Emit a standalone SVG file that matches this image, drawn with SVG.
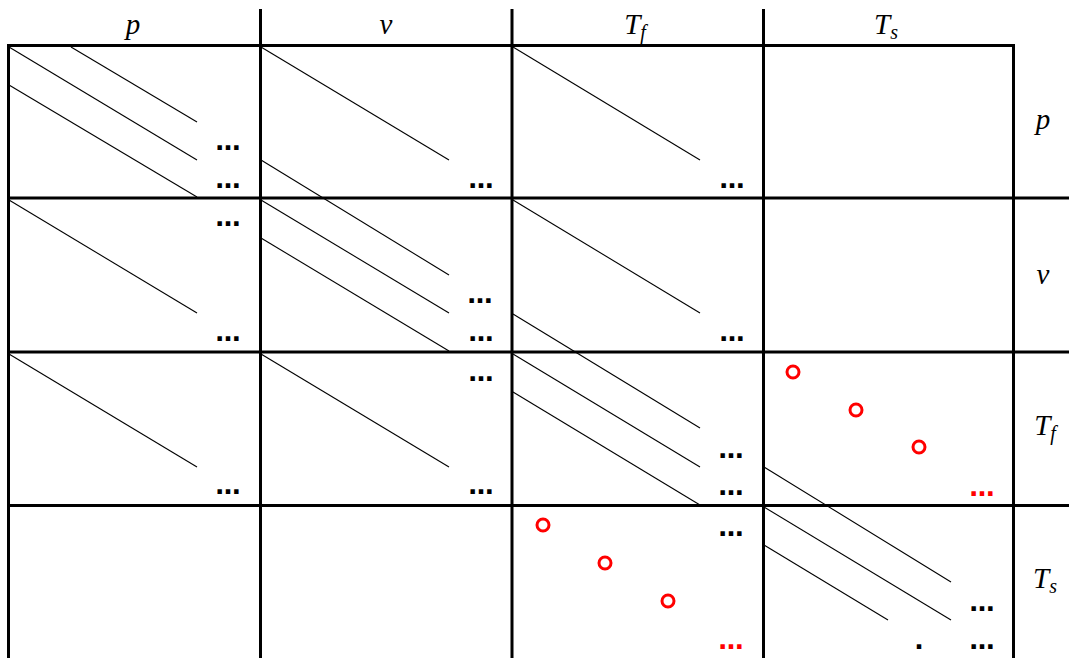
<svg xmlns="http://www.w3.org/2000/svg" width="1069" height="658" viewBox="0 0 1069 658">
<style>
.grid{stroke:#000;stroke-width:3;fill:none}
.d{stroke:#000;stroke-width:1.1;fill:none}
.lbl{font-family:"Liberation Serif","DejaVu Serif",serif;font-style:italic;font-size:29px;fill:#000;text-anchor:middle}
.sub{font-size:20px}
.dots{font-family:"DejaVu Sans","Liberation Sans",sans-serif;font-weight:bold;font-size:25px;fill:#000;text-anchor:middle}
.red{fill:#f00}
.ring{fill:none;stroke:#f00;stroke-width:3}
</style>
<rect width="1069" height="658" fill="#fff"/>
<g id="grid">
<line class="grid" x1="8.5" y1="45" x2="8.5" y2="658"/>
<line class="grid" x1="260.5" y1="9" x2="260.5" y2="658"/>
<line class="grid" x1="512" y1="9" x2="512" y2="658"/>
<line class="grid" x1="763.5" y1="9" x2="763.5" y2="658"/>
<line class="grid" x1="1013.5" y1="45" x2="1013.5" y2="658"/>
<line class="grid" x1="7" y1="45.5" x2="1015" y2="45.5"/>
<line class="grid" x1="7" y1="198" x2="1069" y2="198"/>
<line class="grid" x1="7" y1="352" x2="1069" y2="352"/>
<line class="grid" x1="7" y1="505.5" x2="1069" y2="505.5"/>
</g>
<g id="labels">
<text class="lbl" x="133" y="34">p</text>
<text class="lbl" x="386" y="34">v</text>
<text class="lbl" x="635" y="34">T<tspan class="sub" dy="5">f</tspan></text>
<text class="lbl" x="886" y="34">T<tspan class="sub" dy="5">s</tspan></text>
<text class="lbl" x="1043" y="129">p</text>
<text class="lbl" x="1043" y="284">v</text>
<text class="lbl" x="1045" y="435">T<tspan class="sub" dy="5">f</tspan></text>
<text class="lbl" x="1045" y="588">T<tspan class="sub" dy="5">s</tspan></text>
</g>
<g id="connectors">
<line class="d" x1="9" y1="47" x2="197" y2="160"/>
<line class="d" x1="71" y1="47" x2="197" y2="122"/>
<line class="d" x1="9" y1="85" x2="197" y2="197"/>
<line class="d" x1="261" y1="47" x2="449" y2="160"/>
<line class="d" x1="261" y1="160" x2="449" y2="275"/>
<line class="d" x1="513" y1="47" x2="700" y2="160"/>
<line class="d" x1="9" y1="200" x2="197" y2="313"/>
<line class="d" x1="261" y1="200" x2="449" y2="313"/>
<line class="d" x1="261" y1="238" x2="449" y2="351"/>
<line class="d" x1="513" y1="200" x2="700" y2="313"/>
<line class="d" x1="513" y1="314" x2="700" y2="428"/>
<line class="d" x1="9" y1="354" x2="197" y2="467"/>
<line class="d" x1="261" y1="354" x2="449" y2="467"/>
<line class="d" x1="513" y1="354" x2="700" y2="467"/>
<line class="d" x1="513" y1="392" x2="700" y2="505"/>
<line class="d" x1="764" y1="467" x2="951" y2="582"/>
<line class="d" x1="764" y1="507" x2="951" y2="620"/>
<line class="d" x1="764" y1="545" x2="888" y2="620"/>
</g>
<g id="block-p-p"><text class="dots" x="228" y="150">…</text><text class="dots" x="228" y="188">…</text></g>
<g id="block-p-v"><text class="dots" x="481" y="188">…</text></g>
<g id="block-p-Tf"><text class="dots" x="732" y="188">…</text></g>
<g id="block-v-p"><text class="dots" x="228" y="226">…</text><text class="dots" x="228" y="341">…</text></g>
<g id="block-v-v"><text class="dots" x="480" y="303">…</text><text class="dots" x="481" y="341">…</text></g>
<g id="block-v-Tf"><text class="dots" x="732" y="341">…</text></g>
<g id="block-Tf-p"><text class="dots" x="228" y="494">…</text></g>
<g id="block-Tf-v"><text class="dots" x="481" y="381">…</text><text class="dots" x="481" y="494">…</text></g>
<g id="block-Tf-Tf"><text class="dots" x="731" y="458">…</text><text class="dots" x="731" y="495">…</text></g>
<g id="block-Tf-Ts">
<circle class="ring" cx="793" cy="372" r="6"/>
<circle class="ring" cx="856" cy="410" r="6"/>
<circle class="ring" cx="919" cy="447" r="6"/>
<text class="dots red" x="982" y="496">…</text>
</g>
<g id="block-Ts-Tf">
<circle class="ring" cx="543" cy="525" r="6"/>
<circle class="ring" cx="605" cy="563" r="6"/>
<circle class="ring" cx="668" cy="601" r="6"/>
<text class="dots" x="731" y="536">…</text>
<text class="dots red" x="731" y="649">…</text>
</g>
<g id="block-Ts-Ts">
<text class="dots" x="982" y="611">…</text>
<text class="dots" x="982" y="649">…</text>
<text class="dots" x="919" y="649">.</text>
</g>
</svg>
